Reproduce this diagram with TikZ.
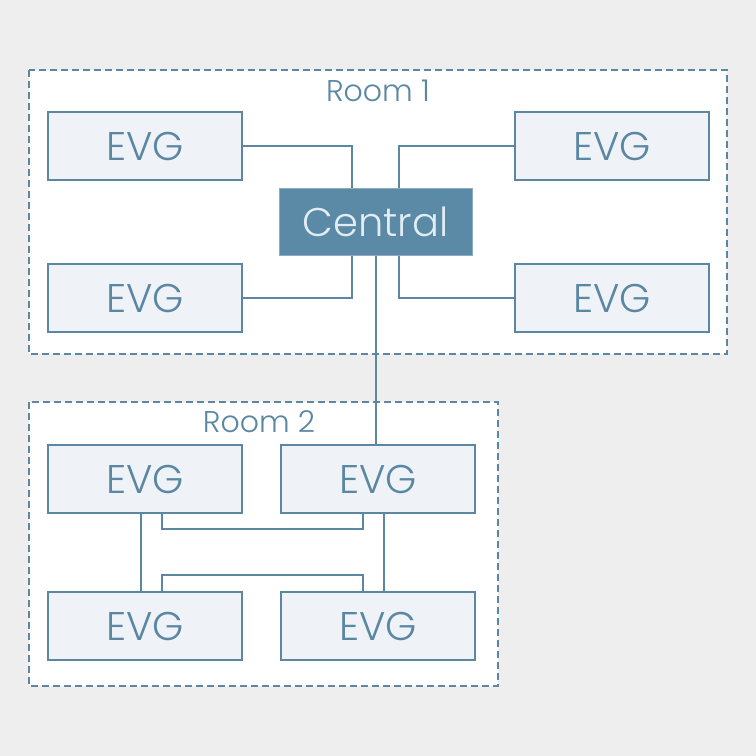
\documentclass[tikz,border=0pt]{standalone}
\usepackage{fontspec}
\setmainfont{Poppins Light}
\usetikzlibrary{positioning}
\definecolor{linecol}{HTML}{5B87A3}
\definecolor{evgfill}{HTML}{EFF3F7}
\definecolor{centralfill}{HTML}{5B8AA6}
\definecolor{centraltext}{HTML}{E2ECF2}
\definecolor{bgcol}{HTML}{EEEEEE}
\tikzset{
  evg/.style={draw=linecol, fill=evgfill, line width=1.6pt, minimum width=194pt,
    minimum height=68pt, inner sep=0pt, text=linecol, font=\fontsize{40}{40}\selectfont},
  central/.style={fill=centralfill, draw=centralfill!70!white, line width=1pt, minimum width=193pt,
    minimum height=67pt, inner sep=0pt, text=centraltext, font=\fontsize{40}{40}\selectfont},
  room/.style={draw=linecol, fill=white, line width=1.6pt, dash pattern=on 7pt off 4pt},
  roomlabel/.style={text=linecol, inner sep=0pt, font=\fontsize{30}{30}\selectfont},
  wire/.style={draw=linecol, line width=1.6pt}
}
\begin{document}
\begin{tikzpicture}[x=1pt,y=-1pt]
    % background and rooms
    \fill[bgcol] (0,0) rectangle (756,756);
    \draw[room] (29,70) rectangle (727,354);
    \draw[room] (29,402) rectangle (498,686);
    \node[roomlabel] (lab1) at (378,91) {Room 1};
    \node[roomlabel] (lab2) at (259,422) {Room 2};
    % room 1
    \node[central] (c) at (375.5,221.5) {Central};
    \node[evg] (a1) at (145,146) {EVG};
    \node[evg] (a2) at (612,146) {EVG};
    \node[evg] (a3) at (145,298) {EVG};
    \node[evg] (a4) at (612,298) {EVG};
    \draw[wire] (a1.east) -| ([xshift=-23.5pt]c.north);
    \draw[wire] (a2.west) -| ([xshift=23.5pt]c.north);
    \draw[wire] (a3.east) -| ([xshift=-23.5pt]c.south);
    \draw[wire] (a4.west) -| ([xshift=23.5pt]c.south);
    % room 2
    \foreach \n/\x/\y in {b1/145/479, b2/378/479, b3/145/626, b4/378/626}
        \node[evg] (\n) at (\x,\y) {EVG};
    \draw[wire] ([xshift=0.5pt]c.south) -- ([xshift=0.5pt]c.south |- b2.north);
    \draw[wire] ([xshift=-4pt]b1.south) -- ([xshift=-4pt]b3.north);
    \draw[wire] ([xshift=6pt]b2.south) -- ([xshift=6pt]b4.north);
    \draw[wire] ([xshift=17pt]b1.south) -- ++(0,15) -| ([xshift=-15pt]b2.south);
    \draw[wire] ([xshift=17pt]b3.north) -- ++(0,-16) -| ([xshift=-15pt]b4.north);
\end{tikzpicture}
\end{document}
